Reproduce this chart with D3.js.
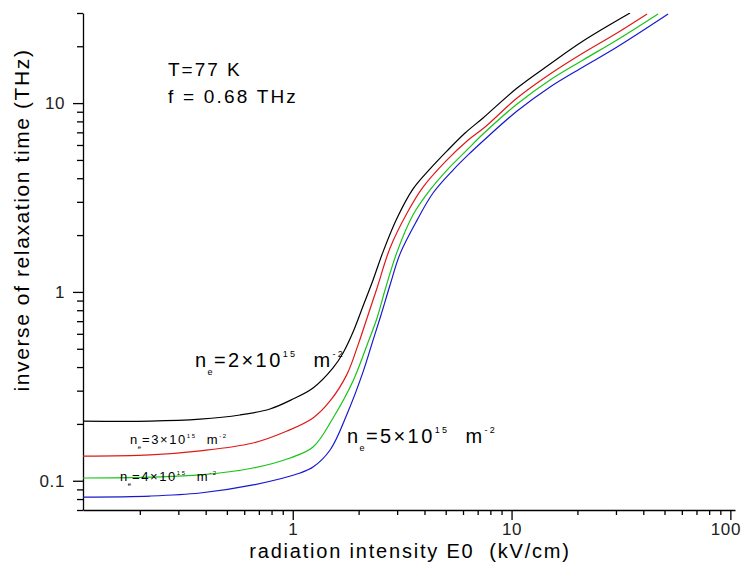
<!DOCTYPE html>
<html>
<head>
<meta charset="utf-8">
<script src="https://cdn.jsdelivr.net/npm/d3@7"></script>
<style>
  body { margin: 0; background: #fff; }
  svg { font-family: "Liberation Sans", Arial, sans-serif; }
  .axis path, .axis line { stroke: #000; stroke-width: 1.3; }
  .axis text { fill: #222; font-size: 17px; letter-spacing: 0.6px; }
  .curve { fill: none; stroke-width: 1.2; }
  text { white-space: pre; }
</style>
</head>
<body>
<svg width="743" height="563"></svg>
<script>
// E0 (kV/cm) vs inverse relaxation time (THz), one array per electron density
const ne2 = [[0.110, 0.207], [0.223, 0.207], [0.377, 0.212], [0.574, 0.223], [0.787, 0.240],
  [1.003, 0.271], [1.238, 0.310], [1.528, 0.396], [1.698, 0.475], [1.886, 0.613],
  [2.096, 0.842], [2.328, 1.157], [2.586, 1.63], [2.998, 2.46], [3.547, 3.51],
  [4.241, 4.48], [5.073, 5.58], [6.132, 6.94], [7.407, 8.34], [10.60, 12.02],
  [15.00, 16.11], [21.22, 21.32], [34.80, 30.0]];
const ne3 = [[0.110, 0.135], [0.223, 0.137], [0.377, 0.144], [0.659, 0.1585], [0.942, 0.1834],
  [1.238, 0.215], [1.481, 0.2645], [1.771, 0.367], [1.988, 0.524], [2.186, 0.728],
  [2.428, 1.049], [2.784, 1.71], [3.330, 2.62], [3.940, 3.59], [5.073, 5.00],
  [6.262, 6.30], [7.565, 7.47], [10.60, 10.64], [15.00, 14.26], [21.22, 18.42],
  [30.35, 23.51], [41.63, 29.64]];
const ne4 = [[0.110, 0.1034], [0.223, 0.1046], [0.377, 0.1073], [0.659, 0.1168], [0.972, 0.132],
  [1.238, 0.1509], [1.528, 0.2149], [1.886, 0.3375], [2.186, 0.524], [2.428, 0.728],
  [2.641, 1.024], [2.998, 1.63], [3.547, 2.56], [4.241, 3.47], [5.073, 4.42],
  [6.262, 5.65], [7.407, 6.86], [10.60, 9.89], [15.00, 13.26], [21.22, 16.92],
  [30.35, 21.59], [46.73, 29.64]];
const ne5 = [[0.110, 0.082], [0.223, 0.083], [0.377, 0.0861], [0.659, 0.095], [1.080, 0.1099],
  [1.238, 0.1182], [1.481, 0.1455], [1.771, 0.2257], [2.096, 0.377], [2.328, 0.556],
  [2.532, 0.755], [2.784, 1.088], [3.093, 1.59], [3.700, 2.40], [4.377, 3.34],
  [5.403, 4.42], [6.463, 5.44], [7.407, 6.30], [10.60, 9.08], [15.00, 12.17],
  [21.22, 15.53], [30.35, 19.82], [51.92, 29.64]];

const seriesColors = ["#000000", "#e01818", "#18c418", "#1818d0"];

const xMajor = [1, 10, 100];
const xMinor = [0.2, 0.3, 0.4, 0.5, 0.6, 0.7, 0.8, 0.9, 2, 3, 4, 5, 6, 7, 8, 9,
  20, 30, 40, 50, 60, 70, 80, 90];
const yMajor = [0.1, 1, 10];
const yMinor = [0.07, 0.08, 0.09, 0.2, 0.3, 0.4, 0.5, 0.6, 0.7, 0.8, 0.9,
  2, 3, 4, 5, 6, 7, 8, 9, 20, 30];

const svg = d3.select("svg");

const x = d3.scaleLog().domain([0.11, 105]).range([83, 735]);
const y = d3.scaleLog().domain([0.07, 30]).range([510, 13]);

svg.append("clipPath").attr("id", "plot")
  .append("rect")
  .attr("x", x.range()[0]).attr("y", y.range()[1])
  .attr("width", x.range()[1] - x.range()[0])
  .attr("height", y.range()[0] - y.range()[1]);

const fmt = d3.format("~g");

// minor ticks
svg.append("g").attr("class", "axis")
  .attr("transform", `translate(0, ${y.range()[0]})`)
  .call(d3.axisBottom(x).tickValues(xMinor).tickSize(5).tickFormat(""))
  .call(g => g.select(".domain").remove());
svg.append("g").attr("class", "axis")
  .attr("transform", `translate(${x.range()[0]}, 0)`)
  .call(d3.axisLeft(y).tickValues(yMinor).tickSize(6).tickFormat(""))
  .call(g => g.select(".domain").remove());

// major ticks + labels
svg.append("g").attr("class", "axis")
  .attr("transform", `translate(0, ${y.range()[0]})`)
  .call(d3.axisBottom(x).tickValues(xMajor).tickSize(10).tickSizeOuter(0)
    .tickPadding(3).tickFormat(fmt))
  .call(g => g.selectAll("text")
    .attr("dx", d => d === 100 ? -5 : 0));
svg.append("g").attr("class", "axis")
  .attr("transform", `translate(${x.range()[0]}, 0)`)
  .call(d3.axisLeft(y).tickValues(yMajor).tickSize(10).tickSizeOuter(0)
    .tickPadding(8).tickFormat(fmt));

svg.selectAll(".axis").attr("font-size", null).attr("font-family", null);

const line = d3.line()
  .curve(d3.curveCatmullRom.alpha(0.5))
  .x(d => x(d[0]))
  .y(d => y(d[1]));

svg.append("g").attr("clip-path", "url(#plot)")
  .selectAll("path")
  .data([ne2, ne3, ne4, ne5])
  .join("path")
  .attr("class", "curve")
  .attr("stroke", (d, i) => seriesColors[i])
  .attr("d", line);

// axis titles
svg.append("text")
  .attr("x", 410).attr("y", 558)
  .attr("text-anchor", "middle")
  .attr("font-size", 20).attr("letter-spacing", 1.8)
  .text("radiation intensity E0  (kV/cm)");

svg.append("text")
  .attr("transform", "translate(29, 220) rotate(-90)")
  .attr("text-anchor", "middle")
  .attr("font-size", 21).attr("letter-spacing", 1.6)
  .text("inverse of relaxation time (THz)");

svg.append("text")
  .attr("x", 168).attr("y", 76)
  .attr("font-size", 19).attr("letter-spacing", 2)
  .text("T=77 K");
svg.append("text")
  .attr("x", 168).attr("y", 103)
  .attr("font-size", 19).attr("letter-spacing", 2.2)
  .text("f = 0.68 THz");

// curve labels  n_e = k x 10^15 m^-2
function densityLabel(px, py, size, k) {
  const small = Math.round(size * 0.45);
  const t = svg.append("text")
    .attr("x", px).attr("y", py)
    .attr("font-size", size)
    .attr("letter-spacing", size * 0.12);
  t.append("tspan").text("n");
  t.append("tspan").attr("font-size", small).attr("dy", size * 0.4).attr("dx", -1).text("e");
  t.append("tspan").attr("dy", -size * 0.4).attr("dx", -size * 0.05).text(`=${k}×10`);
  t.append("tspan").attr("font-size", small).attr("dy", -size * 0.5).text("15");
  t.append("tspan").attr("dy", size * 0.5).text("  m");
  t.append("tspan").attr("font-size", small).attr("dy", -size * 0.5).text("-2");
}

densityLabel(195, 367, 20, 2);
densityLabel(130, 444, 13, 3);
densityLabel(120, 481, 13, 4);
densityLabel(347, 443, 20, 5);
</script>
</body>
</html>
